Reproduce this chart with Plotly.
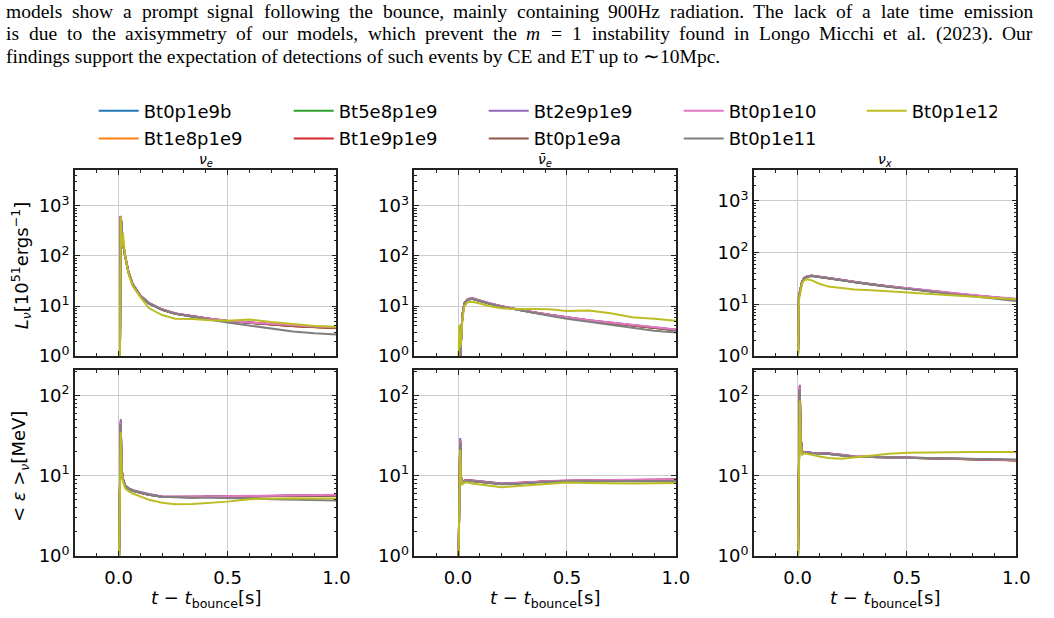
import plotly.graph_objects as go

# ---------------- data ----------------
MODELS = ["Bt0p1e9b", "Bt1e8p1e9", "Bt5e8p1e9", "Bt1e9p1e9", "Bt2e9p1e9",
          "Bt0p1e9a", "Bt0p1e10", "Bt0p1e11", "Bt0p1e12"]
COLORS = ["#1f77b4", "#ff7f0e", "#2ca02c", "#d62728", "#9467bd",
          "#8c564b", "#e377c2", "#7f7f7f", "#bcbd22"]

TIME = [0.000, 0.006, 0.010, 0.014, 0.020, 0.030, 0.045, 0.065, 0.10, 0.14,
        0.20, 0.26, 0.34, 0.42, 0.50, 0.60, 0.70, 0.80, 0.90, 1.00]

# luminosity, nu_e  [1e51 erg/s]
lum_nue = {
    "Bt0p1e9b":  [0.3, 0.6, 610, 395, 178, 99, 47.5, 26.8, 15.9, 11.2, 8.4, 7.0, 6.1, 5.5, 5.0, 4.6, 4.3, 4.0, 3.8, 3.65],
    "Bt1e8p1e9": [0.3, 0.6, 615, 398, 180, 100, 48, 27, 16, 11.3, 8.4, 7.0, 6.1, 5.5, 5.0, 4.6, 4.25, 3.95, 3.75, 3.6],
    "Bt5e8p1e9": [0.3, 0.6, 605, 400, 179, 100, 48, 27, 16, 11.3, 8.5, 7.1, 6.1, 5.5, 5.0, 4.6, 4.3, 4.0, 3.8, 3.7],
    "Bt1e9p1e9": [0.3, 0.6, 620, 402, 181, 101, 48.5, 27.2, 16.1, 11.4, 8.5, 7.1, 6.2, 5.6, 5.05, 4.65, 4.3, 4.0, 3.8, 3.7],
    "Bt2e9p1e9": [0.3, 0.6, 625, 405, 182, 101, 48.5, 27.3, 16.2, 11.4, 8.5, 7.1, 6.2, 5.6, 5.1, 4.7, 4.35, 4.05, 3.85, 3.75],
    "Bt0p1e9a":  [0.3, 0.6, 612, 396, 178, 99, 47.8, 26.9, 16, 11.3, 8.4, 7.0, 6.1, 5.5, 5.0, 4.6, 4.3, 4.0, 3.8, 3.7],
    "Bt0p1e10":  [0.3, 0.6, 630, 405, 183, 102, 49, 27.5, 16.2, 11.5, 8.6, 7.2, 6.2, 5.6, 5.1, 4.7, 4.4, 4.1, 3.9, 3.75],
    "Bt0p1e11":  [0.3, 0.6, 600, 395, 178, 99, 47.5, 27, 16, 11.4, 8.4, 7.0, 6.0, 5.3, 4.7, 4.1, 3.5, 3.1, 2.85, 2.7],
    "Bt0p1e12":  [0.3, 0.5, 600, 150, 280, 100, 45, 25, 15, 9.0, 6.6, 5.6, 5.5, 5.2, 5.1, 5.4, 4.8, 4.4, 4.0, 3.85],
}
# luminosity, anti nu_e
lum_anue = {
    "Bt0p1e9b":  [0.3, 0.5, 0.8, 2.0, 6.4, 11.4, 13.5, 14.0, 12.6, 11.3, 9.8, 8.7, 7.5, 6.6, 5.8, 5.1, 4.6, 4.1, 3.7, 3.3],
    "Bt1e8p1e9": [0.3, 0.5, 0.8, 2.0, 6.5, 11.5, 13.6, 14.1, 12.6, 11.3, 9.8, 8.7, 7.5, 6.6, 5.8, 5.1, 4.6, 4.1, 3.7, 3.3],
    "Bt5e8p1e9": [0.3, 0.5, 0.8, 2.0, 6.3, 11.4, 13.5, 14.0, 12.5, 11.2, 9.8, 8.7, 7.5, 6.6, 5.8, 5.1, 4.6, 4.1, 3.7, 3.3],
    "Bt1e9p1e9": [0.3, 0.5, 0.8, 2.1, 6.6, 11.6, 13.7, 14.2, 12.7, 11.4, 9.9, 8.8, 7.6, 6.7, 5.9, 5.2, 4.6, 4.1, 3.7, 3.35],
    "Bt2e9p1e9": [0.3, 0.5, 0.8, 2.1, 6.7, 11.8, 13.9, 14.4, 12.8, 11.5, 9.9, 8.8, 7.6, 6.7, 5.9, 5.2, 4.7, 4.2, 3.75, 3.35],
    "Bt0p1e9a":  [0.3, 0.5, 0.8, 2.0, 6.4, 11.4, 13.5, 14.0, 12.6, 11.3, 9.8, 8.7, 7.5, 6.6, 5.8, 5.1, 4.6, 4.1, 3.7, 3.3],
    "Bt0p1e10":  [0.3, 0.5, 0.8, 2.0, 6.5, 11.6, 13.7, 14.2, 12.8, 11.5, 9.9, 8.8, 7.6, 6.7, 5.9, 5.2, 4.7, 4.2, 3.75, 3.4],
    "Bt0p1e11":  [0.3, 0.5, 0.8, 2.0, 6.4, 11.4, 13.4, 13.9, 12.5, 11.2, 9.7, 8.6, 7.4, 6.4, 5.6, 4.9, 4.3, 3.7, 3.2, 2.95],
    "Bt0p1e12":  [0.3, 4.2, 1.5, 2.0, 5.5, 10.0, 12.0, 12.2, 11.2, 10.0, 9.0, 8.7, 8.7, 8.6, 8.0, 8.1, 7.2, 6.0, 5.6, 5.1],
}
# luminosity, nu_x
lum_nux = {
    "Bt0p1e9b":  [0.3, 14, 17, 22, 27, 32, 34.5, 35.5, 34, 32, 29.5, 27, 24, 22, 20.3, 18.0, 16.2, 14.8, 13.5, 12.4],
    "Bt1e8p1e9": [0.3, 14, 17, 22, 27, 32, 34.6, 35.6, 34, 32, 29.5, 27, 24, 22, 20.3, 18.0, 16.2, 14.8, 13.5, 12.4],
    "Bt5e8p1e9": [0.3, 14, 17, 22, 27, 32, 34.4, 35.4, 34, 32, 29.4, 27, 24, 22, 20.2, 18.0, 16.2, 14.8, 13.5, 12.4],
    "Bt1e9p1e9": [0.3, 14, 17, 22, 27, 32, 34.8, 35.8, 34.2, 32.2, 29.6, 27.1, 24.1, 22.1, 20.4, 18.1, 16.3, 14.9, 13.6, 12.5],
    "Bt2e9p1e9": [0.3, 14, 17, 22, 27, 32.5, 35.0, 36.0, 34.4, 32.4, 29.8, 27.2, 24.2, 22.2, 20.5, 18.2, 16.4, 15.0, 13.7, 12.6],
    "Bt0p1e9a":  [0.3, 14, 17, 22, 27, 32, 34.5, 35.5, 34, 32, 29.5, 27, 24, 22, 20.3, 18.0, 16.2, 14.8, 13.5, 12.4],
    "Bt0p1e10":  [0.3, 14, 17, 22, 27, 32.3, 34.8, 35.8, 34.3, 32.3, 29.8, 27.3, 24.3, 22.3, 20.6, 18.4, 16.6, 15.2, 13.9, 12.8],
    "Bt0p1e11":  [0.3, 14, 17, 22, 27, 32, 34.3, 35.2, 33.8, 31.8, 29.2, 26.7, 23.7, 21.6, 19.9, 17.6, 15.8, 14.3, 12.9, 11.6],
    "Bt0p1e12":  [0.3, 12, 15, 20, 25, 29, 30.5, 29, 25, 22, 20.3, 19.3, 18.8, 17.8, 17.0, 15.8, 14.8, 13.9, 13.2, 12.6],
}
# mean energy, nu_e [MeV]
ene_nue = {
    "Bt0p1e9b":  [0.3, 3.0, 45, 12, 9.0, 7.5, 6.9, 6.5, 6.1, 5.8, 5.45, 5.4, 5.4, 5.45, 5.5, 5.55, 5.6, 5.6, 5.65, 5.7],
    "Bt1e8p1e9": [0.3, 3.0, 47, 12, 9.0, 7.5, 6.9, 6.5, 6.1, 5.8, 5.45, 5.4, 5.4, 5.45, 5.5, 5.55, 5.6, 5.6, 5.65, 5.7],
    "Bt5e8p1e9": [0.3, 3.0, 44, 12, 9.0, 7.5, 6.9, 6.5, 6.1, 5.8, 5.45, 5.4, 5.4, 5.45, 5.5, 5.55, 5.6, 5.6, 5.6, 5.65],
    "Bt1e9p1e9": [0.3, 3.0, 48, 12, 9.1, 7.6, 7.0, 6.6, 6.1, 5.8, 5.5, 5.45, 5.45, 5.5, 5.5, 5.55, 5.6, 5.65, 5.65, 5.7],
    "Bt2e9p1e9": [0.3, 3.0, 51, 12.5, 9.2, 7.6, 7.0, 6.6, 6.2, 5.9, 5.5, 5.45, 5.45, 5.5, 5.55, 5.6, 5.6, 5.65, 5.7, 5.7],
    "Bt0p1e9a":  [0.3, 3.0, 45, 12, 9.0, 7.5, 6.9, 6.5, 6.1, 5.8, 5.45, 5.4, 5.4, 5.45, 5.5, 5.55, 5.6, 5.6, 5.65, 5.7],
    "Bt0p1e10":  [0.3, 3.0, 46, 12, 9.0, 7.5, 6.9, 6.5, 6.1, 5.8, 5.5, 5.45, 5.45, 5.5, 5.55, 5.6, 5.65, 5.7, 5.75, 5.8],
    "Bt0p1e11":  [0.3, 3.0, 44, 12, 9.0, 7.5, 6.9, 6.5, 6.1, 5.8, 5.45, 5.35, 5.3, 5.3, 5.3, 5.2, 5.1, 5.0, 4.95, 4.9],
    "Bt0p1e12":  [0.3, 3.0, 35, 11, 8.5, 7.0, 6.4, 6.0, 5.5, 5.0, 4.6, 4.4, 4.45, 4.55, 4.75, 5.1, 5.2, 5.25, 5.2, 5.2],
}
# mean energy, anti nu_e
ene_anue = {
    "Bt0p1e9b":  [0.3, 3.0, 27, 9.5, 8.2, 8.6, 8.7, 8.6, 8.4, 8.2, 7.9, 8.0, 8.3, 8.5, 8.6, 8.7, 8.75, 8.8, 8.85, 8.9],
    "Bt1e8p1e9": [0.3, 3.0, 28, 9.5, 8.2, 8.6, 8.7, 8.6, 8.4, 8.2, 7.9, 8.0, 8.3, 8.5, 8.6, 8.7, 8.75, 8.8, 8.85, 8.9],
    "Bt5e8p1e9": [0.3, 3.0, 26, 9.5, 8.2, 8.6, 8.7, 8.6, 8.4, 8.2, 7.9, 8.0, 8.3, 8.5, 8.6, 8.7, 8.7, 8.75, 8.8, 8.85],
    "Bt1e9p1e9": [0.3, 3.0, 28, 9.6, 8.3, 8.7, 8.8, 8.7, 8.5, 8.3, 8.0, 8.1, 8.35, 8.55, 8.65, 8.75, 8.8, 8.85, 8.9, 8.95],
    "Bt2e9p1e9": [0.3, 3.0, 29.5, 9.7, 8.3, 8.7, 8.8, 8.7, 8.5, 8.3, 8.0, 8.1, 8.35, 8.55, 8.65, 8.75, 8.8, 8.85, 8.9, 8.95],
    "Bt0p1e9a":  [0.3, 3.0, 27, 9.5, 8.2, 8.6, 8.7, 8.6, 8.4, 8.2, 7.9, 8.0, 8.3, 8.5, 8.6, 8.7, 8.75, 8.8, 8.85, 8.9],
    "Bt0p1e10":  [0.3, 3.0, 27, 9.5, 8.2, 8.6, 8.7, 8.6, 8.4, 8.2, 7.95, 8.05, 8.35, 8.6, 8.7, 8.8, 8.85, 8.9, 8.95, 9.0],
    "Bt0p1e11":  [0.3, 3.0, 26, 9.4, 8.1, 8.5, 8.6, 8.5, 8.3, 8.1, 7.8, 7.9, 8.2, 8.4, 8.5, 8.55, 8.55, 8.55, 8.5, 8.5],
    "Bt0p1e12":  [0.3, 3.0, 21, 9.0, 7.8, 8.2, 8.2, 8.0, 7.8, 7.5, 7.2, 7.4, 7.7, 8.0, 8.2, 8.1, 8.0, 8.0, 8.05, 8.1],
}
# mean energy, nu_x
ene_nux = {
    "Bt0p1e9b":  [0.3, 5.0, 125, 30, 20, 19.5, 19.3, 19.2, 19.0, 18.8, 18.0, 17.3, 17.1, 16.9, 16.7, 16.5, 16.3, 16.1, 15.9, 15.6],
    "Bt1e8p1e9": [0.3, 5.0, 128, 30, 20, 19.5, 19.3, 19.2, 19.0, 18.8, 18.0, 17.3, 17.1, 16.9, 16.7, 16.5, 16.3, 16.0, 15.8, 15.5],
    "Bt5e8p1e9": [0.3, 5.0, 122, 30, 20, 19.5, 19.3, 19.2, 19.0, 18.8, 18.0, 17.3, 17.1, 16.9, 16.7, 16.5, 16.3, 16.1, 15.9, 15.6],
    "Bt1e9p1e9": [0.3, 5.0, 132, 31, 20.2, 19.6, 19.4, 19.3, 19.1, 18.9, 18.2, 17.4, 17.2, 17.0, 16.8, 16.6, 16.3, 16.1, 15.9, 15.6],
    "Bt2e9p1e9": [0.3, 5.0, 136, 31, 20.3, 19.7, 19.5, 19.4, 19.2, 19.0, 18.3, 17.5, 17.2, 17.0, 16.8, 16.6, 16.4, 16.2, 16.0, 15.7],
    "Bt0p1e9a":  [0.3, 5.0, 125, 30, 20, 19.5, 19.3, 19.2, 19.0, 18.8, 18.0, 17.3, 17.1, 16.9, 16.7, 16.5, 16.3, 16.1, 15.9, 15.6],
    "Bt0p1e10":  [0.3, 5.0, 127, 30, 20, 19.5, 19.3, 19.2, 19.0, 18.8, 18.1, 17.4, 17.1, 16.9, 16.7, 16.5, 16.3, 16.1, 15.9, 15.7],
    "Bt0p1e11":  [0.3, 5.0, 120, 29, 19.8, 19.3, 19.1, 19.0, 18.8, 18.6, 17.9, 17.3, 17.1, 17.0, 16.9, 16.7, 16.5, 16.3, 16.1, 15.9],
    "Bt0p1e12":  [0.3, 5.0, 87, 25, 18, 19, 18.8, 18.2, 17.4, 16.6, 16.3, 17.0, 18.0, 18.8, 19.3, 19.6, 19.7, 19.8, 19.8, 19.8],
}

PANELS = [lum_nue, lum_anue, lum_nux, ene_nue, ene_anue, ene_nux]
COL_TITLES = ["<i>ν</i><sub><i>e</i></sub>", "<i>ν̄</i><sub><i>e</i></sub>", "<i>ν</i><sub><i>x</i></sub>"]
YLABELS = ["<i>L</i><sub><i>ν</i></sub>[10<sup>51</sup>ergs<sup>−1</sup>]",
           "< <i>ε</i> ><sub><i>ν</i></sub>[MeV]"]
XLABEL = "<i>t</i> − <i>t</i><sub>bounce</sub>[s]"
XTICKS = [0.0, 0.5, 1.0]
XTICKTEXT = ["0.0", "0.5", "1.0"]
YTICKS_TOP = [1, 10, 100, 1000]
YTICKS_BOT = [1, 10, 100]
YTICKTEXT = ["10<sup>0</sup>", "10<sup>1</sup>", "10<sup>2</sup>", "10<sup>3</sup>"]
ROW1_LEGEND = ["Bt0p1e9b", "Bt5e8p1e9", "Bt2e9p1e9", "Bt0p1e10", "Bt0p1e12"]

TEXT_LINES = [
    "models show a prompt signal following the bounce, mainly containing 900Hz radiation. The lack of a late time emission",
    "is due to the axisymmetry of our models, which prevent the <i>m</i> = 1 instability found in Longo Micchi et al. (2023). Our",
    "findings support the expectation of detections of such events by CE and ET up to ∼10Mpc.",
]

# ---------------- layout geometry ----------------
W, H = 1054, 618
COL_PX = [(76, 341), (420, 685), (764, 1030)]
ROW_PX = [(173, 362), (376, 565)]
YRANGES = [[0, 3.71], [0, 3.71], [0, 3.59], [0, 2.32], [0, 2.32], [0, 2.32]]


def fx(p):
    return p / W


def fy(p):
    return 1 - p / H


FONT = "DejaVu Sans"
AX_COLOR = "#222222"

# approximate advance widths (1/1000 em) of Liberation Serif, used to justify text lines
SERIF_W = {c: 500 for c in "bdghknopquvxy0123456789"}
SERIF_W.update({"a": 444, "c": 444, "e": 444, "z": 444, "f": 333, "r": 333, "i": 278, "j": 278,
                "l": 278, "t": 278, "m": 778, "s": 389, "w": 722, "H": 722, "T": 611, "L": 611,
                "M": 889, "O": 722, "C": 667, "E": 611, ".": 250, ",": 250, "(": 333, ")": 333,
                "=": 564, "∼": 541})


def serif_width(word, size):
    plain = word.replace("<i>", "").replace("</i>", "")
    return sum(SERIF_W.get(ch, 500) for ch in plain) * size / 1000.0


fig = go.Figure()

for k, panel in enumerate(PANELS):
    xn = "x" if k == 0 else f"x{k + 1}"
    yn = "y" if k == 0 else f"y{k + 1}"
    for i, m in enumerate(MODELS):
        lw = None
        if m in ("Bt0p1e10", "Bt0p1e11"):
            lw = 128
        elif m == "Bt0p1e12":
            lw = 80
        fig.add_trace(go.Scatter(
            x=TIME, y=panel[m], mode="lines", name=m,
            line=dict(color=COLORS[i], width=2),
            xaxis=xn, yaxis=yn, showlegend=(k == 0),
            legend="legend" if m in ROW1_LEGEND else "legend2",
            legendwidth=lw,
        ))

layout_axes = {}
for k in range(6):
    r, c = divmod(k, 3)
    xkey = "xaxis" if k == 0 else f"xaxis{k + 1}"
    ykey = "yaxis" if k == 0 else f"yaxis{k + 1}"
    xn = "x" if k == 0 else f"x{k + 1}"
    yn = "y" if k == 0 else f"y{k + 1}"
    layout_axes[xkey] = dict(
        domain=[fx(COL_PX[c][0]), fx(COL_PX[c][1])], anchor=yn,
        range=[-0.2, 1.0], tickvals=XTICKS, ticktext=XTICKTEXT,
        showticklabels=(r == 1), ticklabelstandoff=5,
        ticks="inside", ticklen=5, tickwidth=1.2, tickcolor=AX_COLOR,
        showline=True, linecolor=AX_COLOR, linewidth=1.6, mirror="ticks",
        showgrid=True, gridcolor="#cccccc", gridwidth=1, zeroline=False,
        minor=dict(ticks="inside", dtick=0.1, tick0=0, ticklen=3, tickwidth=1,
                   tickcolor=AX_COLOR, showgrid=False),
        tickfont=dict(family=FONT, size=18, color="black"),
    )
    yt = YTICKS_TOP if r == 0 else YTICKS_BOT
    layout_axes[ykey] = dict(
        domain=[fy(ROW_PX[r][1]), fy(ROW_PX[r][0])], anchor=xn,
        type="log", range=YRANGES[k], tickvals=yt, ticktext=YTICKTEXT[:len(yt)],
        ticks="inside", ticklen=5, tickwidth=1.2, tickcolor=AX_COLOR,
        showline=True, linecolor=AX_COLOR, linewidth=1.6, mirror="ticks",
        showgrid=True, gridcolor="#cccccc", gridwidth=1, zeroline=False,
        minor=dict(ticks="inside", dtick="D1", ticklen=2.5, tickwidth=0.8,
                   tickcolor=AX_COLOR, showgrid=False),
        tickfont=dict(family=FONT, size=18, color="black"),
    )

annotations = []
for c in range(3):
    cx = fx((COL_PX[c][0] + COL_PX[c][1]) / 2)
    annotations.append(dict(text=COL_TITLES[c], x=cx, y=fy(163), xref="paper", yref="paper",
                            showarrow=False, xanchor="center", yanchor="middle",
                            font=dict(family=FONT, size=14, color="black")))
    annotations.append(dict(text=XLABEL, x=cx, y=fy(609), xref="paper", yref="paper",
                            showarrow=False, xanchor="center", yanchor="middle",
                            font=dict(family=FONT, size=18, color="black")))
annotations.append(dict(text=YLABELS[0], x=fx(21), y=fy(270), xref="paper", yref="paper",
                        showarrow=False, textangle=-90, xanchor="center", yanchor="middle",
                        font=dict(family=FONT, size=18, color="black")))
annotations.append(dict(text=YLABELS[1], x=fx(21), y=fy(474), xref="paper", yref="paper",
                        showarrow=False, textangle=-90, xanchor="center", yanchor="middle",
                        font=dict(family=FONT, size=18, color="black")))

# paper text: first two lines justified word by word, last line left aligned
TXT_SIZE = 19.5
TXT_LEFT, TXT_RIGHT = 6, 1046
for j, line in enumerate(TEXT_LINES):
    ypos = fy(12 + 22.5 * j)
    if j < 2:
        words = line.split(" ")
        widths = [serif_width(w, TXT_SIZE) for w in words]
        gap = (TXT_RIGHT - TXT_LEFT - sum(widths)) / (len(words) - 1)
        xcur = TXT_LEFT
        for w, wd in zip(words, widths):
            annotations.append(dict(text=w, x=fx(xcur), y=ypos, xref="paper", yref="paper",
                                    showarrow=False, xanchor="left", yanchor="middle",
                                    borderpad=0, borderwidth=0,
                                    font=dict(family="Liberation Serif", size=TXT_SIZE, color="black")))
            xcur += wd + gap
    else:
        annotations.append(dict(text=line, x=fx(TXT_LEFT), y=ypos, xref="paper", yref="paper",
                                showarrow=False, xanchor="left", yanchor="middle",
                                borderpad=0, borderwidth=0,
                                font=dict(family="Liberation Serif", size=TXT_SIZE, color="black")))

legend_common = dict(orientation="h", xanchor="left", yanchor="middle",
                     entrywidthmode="pixels", entrywidth=140, itemwidth=40,
                     font=dict(family=FONT, size=18, color="black"),
                     bgcolor="rgba(0,0,0,0)", itemclick=False, itemdoubleclick=False)

fig.update_layout(
    width=W, height=H,
    margin=dict(l=0, r=0, t=0, b=0),
    paper_bgcolor="white", plot_bgcolor="white",
    showlegend=True,
    legend=dict(x=fx(95), y=fy(113), **legend_common),
    legend2=dict(x=fx(95), y=fy(141), **legend_common),
    annotations=annotations,
    **layout_axes,
)

fig.write_html("out.html")
